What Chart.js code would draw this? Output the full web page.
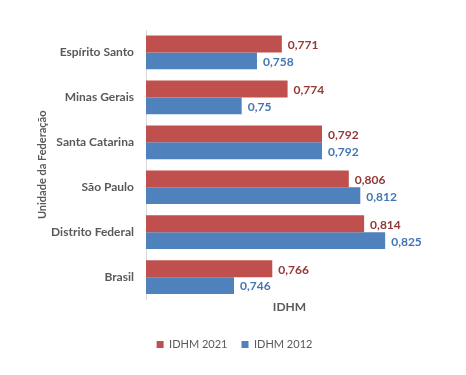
<!DOCTYPE html>
<html>
<head>
<meta charset="utf-8">
<script src="https://cdn.jsdelivr.net/npm/chart.js@4"></script>
<style>
  html, body { margin: 0; padding: 0; background: #fff; }
  #wrap { width: 466px; height: 375px; }
</style>
</head>
<body>
<div id="wrap"><canvas id="idhmChart" width="466" height="375"></canvas></div>
<script>
const categories = ['Espírito Santo', 'Minas Gerais', 'Santa Catarina', 'São Paulo', 'Distrito Federal', 'Brasil'];
const idhm2021 = [0.771, 0.774, 0.792, 0.806, 0.814, 0.766];
const idhm2012 = [0.758, 0.75, 0.792, 0.812, 0.825, 0.746];
const seriesNames = ['IDHM 2021', 'IDHM 2012'];

const labelColors = ['#953735', '#4176B6'];

// draws the value next to the end of each bar
const valueLabels = {
  id: 'valueLabels',
  afterDatasetsDraw(chart) {
    const ctx = chart.ctx;
    ctx.save();
    ctx.font = 'bold 12px Lato';
    ctx.textBaseline = 'middle';
    ctx.textAlign = 'left';
    chart.data.datasets.forEach((ds, i) => {
      chart.getDatasetMeta(i).data.forEach((bar, j) => {
        ctx.fillStyle = labelColors[i];
        ctx.fillText(String(ds.data[j]).replace('.', ','), bar.x + 6, bar.y + 1);
      });
    });
    ctx.restore();
  }
};

new Chart(document.getElementById('idhmChart'), {
  type: 'bar',
  data: {
    labels: categories,
    datasets: [
      { label: seriesNames[0], data: idhm2021, backgroundColor: '#C0504D' },
      { label: seriesNames[1], data: idhm2012, backgroundColor: '#4F81BD' }
    ]
  },
  options: {
    indexAxis: 'y',
    responsive: false,
    animation: false,
    categoryPercentage: 0.75,
    barPercentage: 1,
    layout: { padding: { left: 36, top: 30, right: 33, bottom: 15 } },
    scales: {
      x: {
        min: 0.7,
        max: 0.85,
        grid: { display: false, drawTicks: false },
        border: { display: false },
        ticks: { display: false },
        title: {
          display: true, text: 'IDHM', color: '#595959',
          font: { family: 'Lato', size: 12, weight: 'bold' },
          padding: { top: 0, bottom: 11 }
        }
      },
      y: {
        grid: { display: false, drawTicks: false },
        border: { display: true, color: '#D9D9D9' },
        ticks: {
          color: '#595959', padding: 12,
          font: { family: 'Lato', size: 12, weight: 'bold' }
        },
        title: {
          display: true, text: 'Unidade da Federação', color: '#595959',
          font: { family: 'Lato', size: 11, weight: 'bold' },
          padding: 0
        },
        afterFit(scale) { scale.width = 110; }
      }
    },
    plugins: {
      legend: {
        position: 'bottom',
        labels: {
          boxWidth: 7, boxHeight: 7, padding: 14,
          color: '#595959',
          font: { family: 'Lato', size: 11 }
        }
      },
      tooltip: { enabled: false }
    }
  },
  plugins: [valueLabels]
});
</script>
</body>
</html>
